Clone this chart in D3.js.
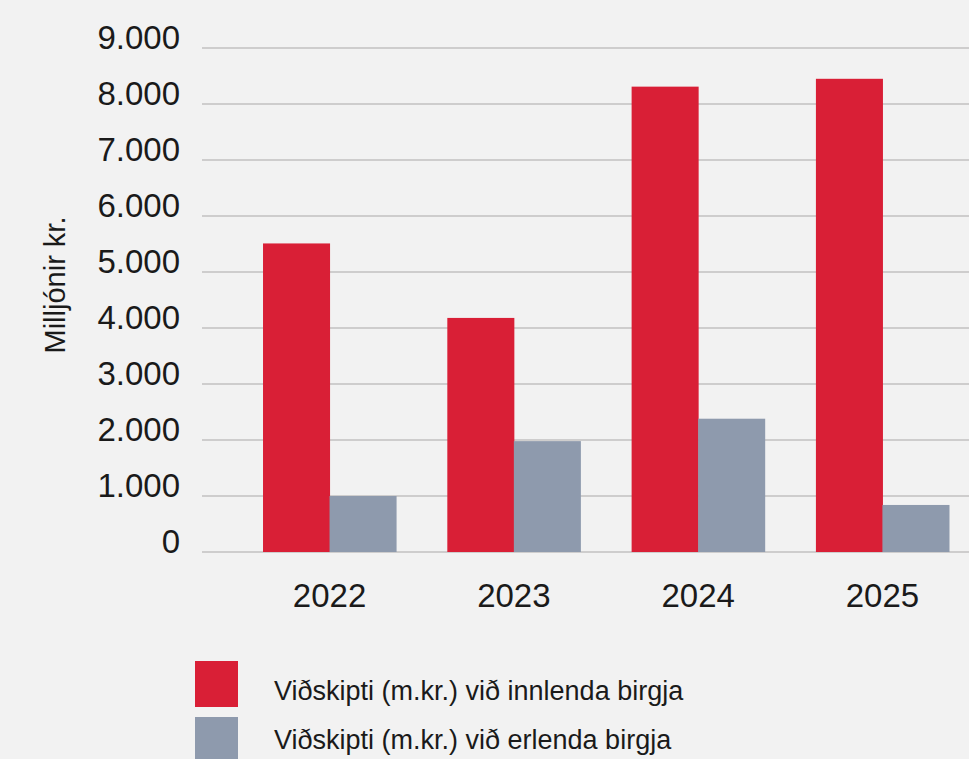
<!DOCTYPE html>
<html>
<head>
<meta charset="utf-8">
<script src="https://cdn.jsdelivr.net/npm/d3@7"></script>
<style>
  html, body { margin: 0; padding: 0; background: #f2f2f2; }
  svg { display: block; font-family: "Liberation Sans", Arial, sans-serif; }
</style>
</head>
<body>
<svg id="chart" width="969" height="759"></svg>
<script>
var years = ["2022", "2023", "2024", "2025"];
var innlend = [5510, 4180, 8310, 8450];
var erlend = [1000, 1980, 2380, 840];
var seriesNames = ["Viðskipti (m.kr.) við innlenda birgja", "Viðskipti (m.kr.) við erlenda birgja"];
var colors = ["#d91f36", "#8e9aad"];
var yTicks = [0, 1000, 2000, 3000, 4000, 5000, 6000, 7000, 8000, 9000];

var svg = d3.select("#chart");
var fmt = d3.formatLocale({ thousands: ".", grouping: [3], decimal: ",", currency: ["", ""] }).format(",");

var y = d3.scaleLinear().domain([0, 9000]).range([552, 48]);
var x = d3.scaleBand().domain(years).range([237.4, 974.6]).paddingInner(0.278).paddingOuter(0.139);
var x1 = d3.scaleBand().domain([0, 1]).range([0, x.bandwidth()]);

// gridlines
svg.append("g")
  .selectAll("line")
  .data(yTicks)
  .join("line")
  .attr("x1", 202).attr("x2", 969)
  .attr("y1", d => y(d)).attr("y2", d => y(d))
  .attr("stroke", "#c2c0c0")
  .attr("stroke-width", 1.5);

// y labels
svg.append("g")
  .selectAll("text")
  .data(yTicks)
  .join("text")
  .attr("x", 180)
  .attr("y", d => y(d) + 1)
  .attr("text-anchor", "end")
  .attr("font-size", 33)
  .attr("fill", "#1a1a1a")
  .text(d => fmt(d));

svg.append("text")
  .attr("transform", "translate(65,285) rotate(-90)")
  .attr("text-anchor", "middle")
  .attr("font-size", 29)
  .attr("fill", "#1a1a1a")
  .text("Milljónir kr.");

// bars
var groups = svg.append("g")
  .selectAll("g")
  .data(years.map((yr, i) => ({ year: yr, vals: [innlend[i], erlend[i]] })))
  .join("g")
  .attr("transform", d => `translate(${x(d.year)},0)`);

groups.selectAll("rect")
  .data(d => d.vals)
  .join("rect")
  .attr("x", (d, i) => x1(i))
  .attr("width", x1.bandwidth() + 0.5)
  .attr("y", d => y(d))
  .attr("height", d => y(0) - y(d))
  .attr("fill", (d, i) => colors[i]);

// x labels
svg.append("g")
  .selectAll("text")
  .data(years)
  .join("text")
  .attr("x", d => x(d) + x.bandwidth() / 2)
  .attr("y", 607)
  .attr("text-anchor", "middle")
  .attr("font-size", 33)
  .attr("fill", "#1a1a1a")
  .text(d => d);

// legend
var legend = svg.append("g")
  .selectAll("g")
  .data(seriesNames)
  .join("g");

legend.append("rect")
  .attr("x", 195)
  .attr("y", (d, i) => 661 + i * 56)
  .attr("width", 43)
  .attr("height", 46)
  .attr("fill", (d, i) => colors[i]);

legend.append("text")
  .attr("x", 274)
  .attr("y", (d, i) => 700 + i * 49)
  .attr("font-size", 27)
  .attr("fill", "#1a1a1a")
  .text(d => d);
</script>
</body>
</html>
